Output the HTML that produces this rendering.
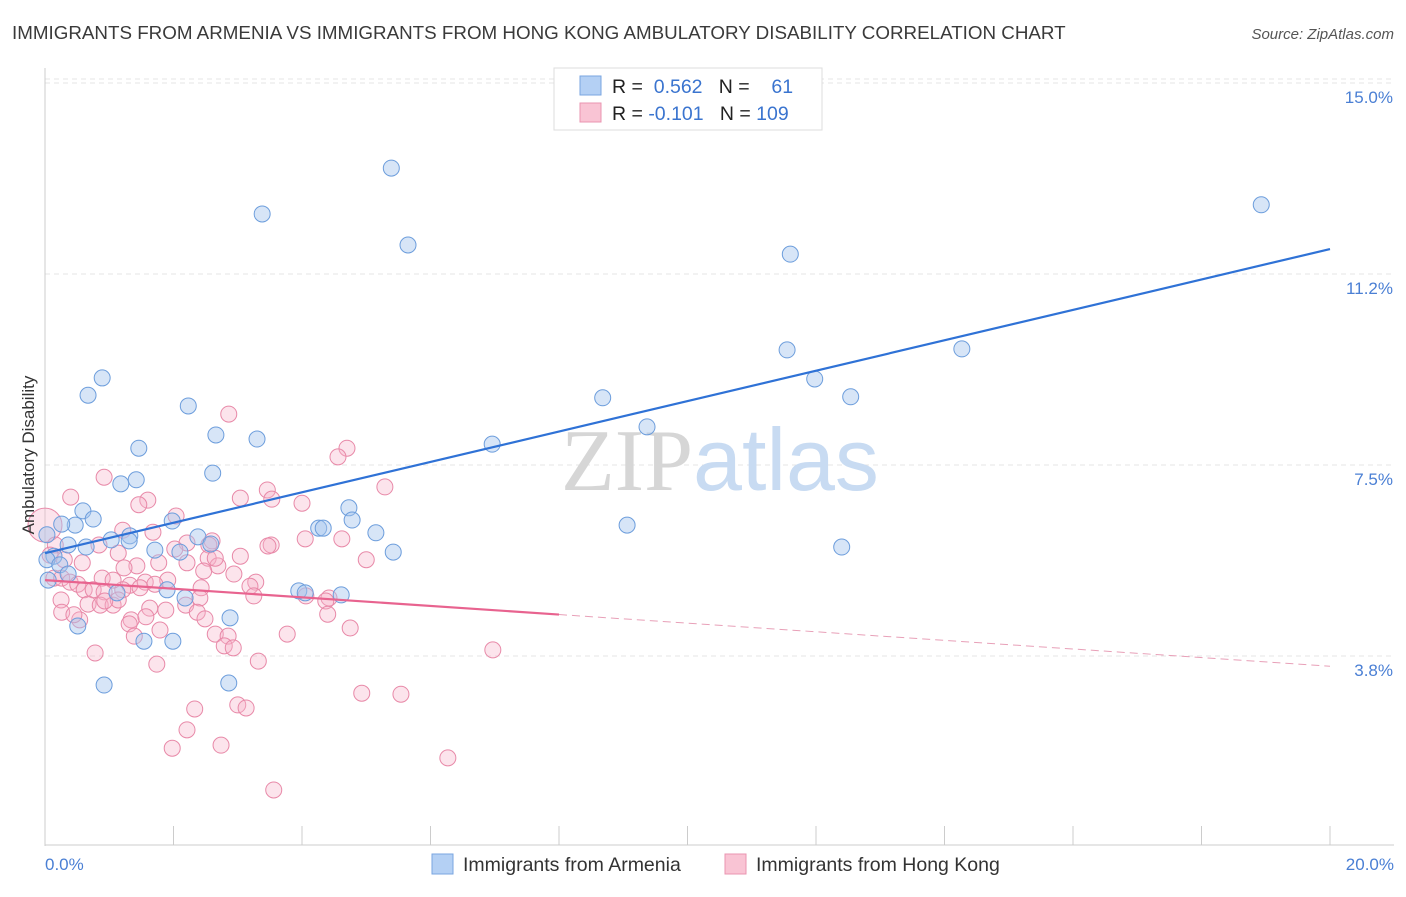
<!DOCTYPE html>
<html><head><meta charset="utf-8"><style>
body{margin:0;background:#fff;font-family:"Liberation Sans",sans-serif;}
svg text{font-family:"Liberation Sans",sans-serif;}
</style></head><body>
<svg id="chart" width="1406" height="892" xmlns="http://www.w3.org/2000/svg">
<text x="12" y="39" font-size="18.8" fill="#3a3a3a">IMMIGRANTS FROM ARMENIA VS IMMIGRANTS FROM HONG KONG AMBULATORY DISABILITY CORRELATION CHART</text>
<text x="1394" y="39" font-size="15" fill="#555" text-anchor="end" font-style="italic">Source: ZipAtlas.com</text>
<g id="grid"></g>
<text x="720" y="490" font-size="88" text-anchor="middle"><tspan fill="#d6d6d6" font-family="Liberation Serif">ZIP</tspan><tspan fill="#c8dbf2">atlas</tspan></text>
<g id="marks"></g>
<text transform="translate(34,455) rotate(-90)" font-size="17" fill="#333" text-anchor="middle">Ambulatory Disability</text>
<text x="45" y="870" font-size="17" fill="#4a7fd4">0.0%</text>
<text x="1394" y="870" font-size="17" fill="#4a7fd4" text-anchor="end">20.0%</text>
<g>
<rect x="554" y="68" width="268" height="62" fill="#fff" stroke="#ddd"/>
<rect x="580" y="76" width="21" height="19" fill="#b4d0f4" stroke="#7aa6e0"/>
<rect x="580" y="103" width="21" height="19" fill="#f9c4d4" stroke="#ea94b0"/>
<text x="612" y="93" font-size="19.5" fill="#222">R = <tspan fill="#3a74cf">&#160;0.562</tspan>&#160;&#160;&#160;N = <tspan fill="#3a74cf">&#160;&#160;&#160;61</tspan></text>
<text x="612" y="120" font-size="19.5" fill="#222">R = <tspan fill="#3a74cf">-0.101</tspan>&#160;&#160;&#160;N = <tspan fill="#3a74cf">109</tspan></text>
</g>
<g>
<rect x="432" y="854" width="21" height="20" fill="#b4d0f4" stroke="#7aa6e0"/>
<text x="463" y="871" font-size="19.5" fill="#333">Immigrants from Armenia</text>
<rect x="725" y="854" width="21" height="20" fill="#f9c4d4" stroke="#ea94b0"/>
<text x="756" y="871" font-size="19.5" fill="#333">Immigrants from Hong Kong</text>
</g>
</svg>
<script>
const yTicks=[15,11.25,7.5,3.75];
const yTickLabels=["15.0%","11.2%","7.5%","3.8%"];
const xTicks=[0,2,4,6,8,10,12,14,16,18,20];
const armeniaX=[5.39,3.38,5.65,11.60,18.93,11.55,14.27,11.98,0.89,0.67,8.68,12.54,2.23,9.37,2.66,3.30,1.46,6.96,2.61,1.42,1.18,0.59,0.75,4.73,4.78,1.98,0.47,0.26,4.26,4.33,5.15,9.06,0.03,1.32,2.38,1.03,1.31,0.36,2.58,0.64,1.71,12.40,5.42,2.10,0.14,0.03,0.23,0.36,0.05,3.95,4.61,1.90,2.18,1.12,2.88,0.51,1.54,1.99,0.92,2.86,4.05];
const armeniaY=[13.33,12.43,11.82,11.64,12.61,9.76,9.78,9.19,9.21,8.87,8.82,8.84,8.66,8.25,8.09,8.01,7.83,7.91,7.34,7.21,7.13,6.60,6.44,6.66,6.42,6.40,6.32,6.34,6.26,6.26,6.17,6.32,6.13,6.11,6.09,6.03,6.01,5.93,5.95,5.89,5.83,5.89,5.79,5.79,5.71,5.64,5.54,5.36,5.24,5.03,4.95,5.05,4.89,4.99,4.50,4.34,4.04,4.04,3.18,3.22,4.99];
const hongkongX=[0,0.40,0.92,2.86,4.70,4.56,5.29,1.60,3.46,3.04,3.53,4.00,2.04,1.46,1.21,1.68,2.21,2.02,2.60,2.55,3.52,3.47,4.05,4.62,0.84,1.14,0.16,0.08,0.30,0.58,1.77,1.43,2.21,2.54,2.69,2.47,2.94,1.23,0.14,0.26,0.39,0.51,0.89,1.32,1.56,1.91,2.43,3.28,3.19,5.00,0.61,0.75,0.92,1.21,1.48,1.71,2.41,4.06,4.42,4.37,0.25,0.67,0.86,1.06,1.14,1.63,1.88,2.19,2.37,0.26,0.54,1.34,1.31,1.79,2.49,4.40,4.75,3.77,2.65,2.85,2.79,2.93,1.39,0.78,6.97,3.32,1.74,4.93,5.54,3.00,3.13,2.33,2.21,1.98,2.74,6.27,3.56,0.93,0.45,1.06,3.04,3.25,2.65,1.57];
const hongkongY=[6.32,6.87,7.26,8.50,7.83,7.66,7.07,6.81,7.01,6.85,6.83,6.75,6.50,6.72,6.22,6.18,5.97,5.85,6.01,5.93,5.93,5.91,6.05,6.05,5.93,5.77,5.93,5.73,5.64,5.58,5.58,5.52,5.58,5.67,5.52,5.42,5.36,5.48,5.28,5.28,5.20,5.16,5.28,5.14,5.20,5.24,5.09,5.20,5.12,5.64,5.05,5.05,5.01,5.05,5.09,5.16,4.89,4.93,4.89,4.83,4.85,4.77,4.75,4.75,4.85,4.69,4.65,4.75,4.61,4.61,4.46,4.46,4.38,4.26,4.48,4.57,4.30,4.18,4.18,4.14,3.95,3.91,4.14,3.81,3.87,3.65,3.59,3.02,3.00,2.79,2.73,2.71,2.30,1.94,2.00,1.75,1.12,4.83,4.56,5.24,5.71,4.93,5.67,4.52];
const armeniaTrend=[5.77,11.74];
const hongkongTrend=[5.24,3.55];
const NS="http://www.w3.org/2000/svg";
const X0=45,X1=1330,Y0=847,PXY=50.93;
function xs(v){return X0+(X1-X0)*v/20;}
function ys(v){return Y0-v*PXY;}
function mk(tag,attrs,parent){const e=document.createElementNS(NS,tag);for(const k in attrs)e.setAttribute(k,attrs[k]);parent.appendChild(e);return e;}
const grid=document.getElementById('grid'),marks=document.getElementById('marks');
mk('line',{x1:45,y1:79,x2:1394,y2:79,stroke:'#e4e4e4','stroke-dasharray':'5,4'},grid);
yTicks.forEach((t,i)=>{
 const l=mk('line',{x1:45,y1:ys(t),x2:1394,y2:ys(t),stroke:'#e4e4e4','stroke-dasharray':'5,4'},grid);
 
 
 const tx=mk('text',{x:1393,y:ys(t)+20,'font-size':17,fill:'#4a7fd4','text-anchor':'end'},grid);
 tx.textContent=yTickLabels[i];
 
 
});
const ax=mk('line',{x1:45,y1:68,x2:45,y2:846,stroke:'#ccc'},grid);


const bx=mk('line',{x1:45,y1:845,x2:1394,y2:845,stroke:'#ccc'},grid);


xTicks.forEach(t=>{
 const l=mk('line',{x1:xs(t),y1:826,x2:xs(t),y2:845,stroke:'#ccc'},grid);
 
 
});
hongkongX.forEach((x,i)=>{
 const c=mk('circle',{cx:xs(x),cy:ys(hongkongY[i]),r:i===0?17:8,fill:'#f6b3c8','fill-opacity':0.35,stroke:'#e889a8','stroke-width':1},marks);
 
 
});
armeniaX.forEach((x,i)=>{
 const c=mk('circle',{cx:xs(x),cy:ys(armeniaY[i]),r:8,fill:'#a6c6ee','fill-opacity':0.45,stroke:'#6c9ddc','stroke-width':1},marks);
 
 
});
const bl=mk('line',{x1:xs(0),y1:ys(armeniaTrend[0]),x2:xs(20),y2:ys(armeniaTrend[1]),stroke:'#2f72d6','stroke-width':2.2},marks);


const py=v=>hongkongTrend[0]+(hongkongTrend[1]-hongkongTrend[0])*v/20;
const pl=mk('line',{x1:xs(0),y1:ys(py(0)),x2:xs(8),y2:ys(py(8)),stroke:'#e8638f','stroke-width':2.2},marks);


const pd=mk('line',{x1:xs(8),y1:ys(py(8)),x2:xs(20),y2:ys(py(20)),stroke:'#e8a0b8','stroke-width':1,'stroke-dasharray':'8,5'},marks);


</script>
</body></html>
